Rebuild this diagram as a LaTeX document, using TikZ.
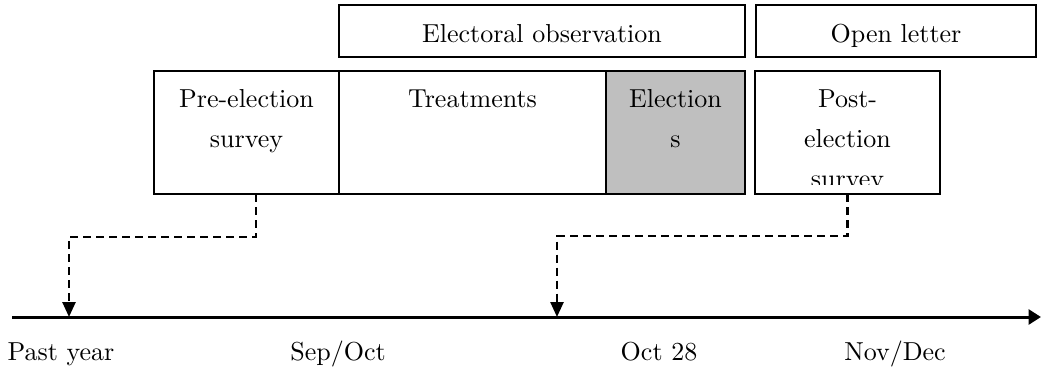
\documentclass[tikz,border=0pt]{standalone}
\usetikzlibrary{arrows.meta,calc}
\def\pxu{0.4pt}
\definecolor{elecgray}{RGB}{191,191,191}
\tikzset{
  box/.style={draw=black, line width=0.8pt, inner sep=0pt, outer sep=0pt, anchor=north west},
  lbl/.style={anchor=base, inner sep=0pt, outer sep=0pt, font=\fontsize{10.4}{16}\selectfont},
  dashcon/.style={line width=1pt, dash pattern=on 3.2pt off 2pt, -{Triangle[length=6pt,width=5.2pt]}},
  axisline/.style={line width=1.2pt, -{Triangle[length=5pt,width=6pt]}}
}
\begin{document}
\begin{tikzpicture}[x=0.4pt,y=-0.4pt]
\useasboundingbox (0,0) rectangle (1041,369);
% top row
\node[box, minimum width=406*\pxu, minimum height=52*\pxu] (obs) at (339,5) {};
\node[box, minimum width=280*\pxu, minimum height=52*\pxu] (open) at (756,5) {};
% middle row
\node[box, minimum width=185*\pxu, minimum height=123*\pxu] (pre) at (154,71) {};
\node[box, minimum width=267*\pxu, minimum height=123*\pxu] (treat) at (339,71) {};
\node[box, fill=elecgray, minimum width=139*\pxu, minimum height=123*\pxu] (elec) at (606,71) {};
\node[box, minimum width=185*\pxu, minimum height=123*\pxu] (post) at (755,71) {};
% texts
\node[lbl] (tobs) at (542,42) {Electoral observation};
\node[lbl] (topen) at (896,42) {Open letter};
\node[lbl] (tpre1) at (246.5,107) {Pre-election};
\node[lbl] (tpre2) at (246.5,147) {survey};
\node[lbl] (ttreat) at (472.5,107) {Treatments};
\node[lbl] (telec1) at (675.5,107) {Election};
\node[lbl] (telec2) at (675.5,147) {s};
\node[lbl] (tpost1) at (847.5,107) {Post-};
\node[lbl] (tpost2) at (847.5,147) {election};
\begin{scope}
  \clip (post.north west) rectangle ($(post.south east)+(0,-10)$);
  \node[lbl] (tpost3) at (847.5,187) {survey};
\end{scope}
% axis
\coordinate (axs) at (12,317);
\coordinate (axe) at (1041,317);
\draw[axisline] (axs) -- (axe);
% connectors
\coordinate (t1) at (69,317);
\coordinate (t2) at (557,317);
\coordinate (m1) at (0,237);
\coordinate (m2) at (0,236);
\coordinate (pa) at ($(pre.south west)!0.55!(pre.south east)$);
\draw[dashcon] (pa) -- (pa |- m1) -| (t1);
\draw[dashcon] (post.south) -- (post.south |- m2) -| (t2);
% time labels
\node[lbl] (lpast) at (61,360) {Past year};
\node[lbl] (lsep) at (338,360) {Sep/Oct};
\node[lbl] (loct) at (659,360) {Oct 28};
\node[lbl] (lnov) at (895,360) {Nov/Dec};
\end{tikzpicture}
\end{document}
